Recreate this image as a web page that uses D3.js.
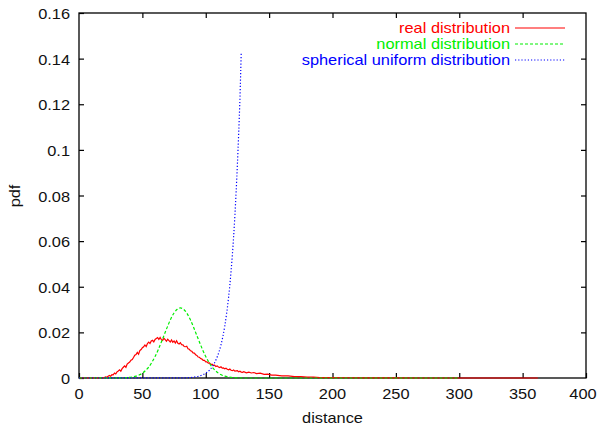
<!DOCTYPE html>
<html><head><meta charset="utf-8">
<script src="https://cdn.jsdelivr.net/npm/d3@7"></script>
<style>body{margin:0;background:#fff}svg{display:block}</style>
</head><body>
<script>
// ---- data ----
const xTicks = [0, 50, 100, 150, 200, 250, 300, 350, 400];
const xTickLabels = ["0", "50", "100", "150", "200", "250", "300", "350", "400"];
const yTicks = [0, 0.02, 0.04, 0.06, 0.08, 0.1, 0.12, 0.14, 0.16];
const yTickLabels = ["0", "0.02", "0.04", "0.06", "0.08", "0.1", "0.12", "0.14", "0.16"];
const seriesNames = ["real distribution", "normal distribution", "spherical uniform distribution"];
const seriesColors = ["#ff0000", "#00ee00", "#0000ff"];

// real distribution (noisy histogram-like)
const realXHead = [0, 15];
const realYHead = [0, 0];
const realXDense = d3.range(20, 131); // distance grid 20..130
const realYDense = [
  0.0002,0.0005,0.0003,0.0008,0.0011,0.0008,0.0015,0.0014,0.0022,0.0018,
  0.0027,0.0031,0.0036,0.0030,0.0041,0.0047,0.0053,0.0047,0.0061,0.0066,
  0.0070,0.0078,0.0081,0.0090,0.0100,0.0103,0.0112,0.0104,0.0120,0.0125,
  0.0133,0.0137,0.0145,0.0138,0.0151,0.0157,0.0151,0.0162,0.0165,0.0158,
  0.0169,0.0173,0.0177,0.0169,0.0178,0.0168,0.0165,0.0174,0.0168,0.0161,
  0.0170,0.0164,0.0158,0.0167,0.0157,0.0162,0.0153,0.0163,0.0152,0.0149,
  0.0155,0.0146,0.0145,0.0138,0.0137,0.0139,0.0128,0.0126,0.0119,0.0117,
  0.0110,0.0109,0.0102,0.0099,0.0092,0.0091,0.0085,0.0083,0.0077,0.0077,
  0.0071,0.0071,0.0065,0.0066,0.0059,0.0061,0.0055,0.0056,0.0050,0.0053,
  0.0048,0.0046,0.0049,0.0043,0.0044,0.0040,0.0043,0.0038,0.0036,0.0039,
  0.0034,0.0032,0.0035,0.0030,0.0031,0.0032,0.0027,0.0030,0.0026,0.0025,0.0028
];
const realXTail = [132, 134, 136, 138, 140, 143, 146, 149, 152, 155, 160, 165, 170, 175, 180, 185, 190, 200, 210, 225, 250, 270, 362];
const realYTail = [0.0023, 0.0026, 0.0022, 0.0024, 0.0019, 0.0021, 0.0016, 0.0017, 0.0013, 0.0013, 0.0009, 0.0009, 0.0006, 0.0006, 0.0004, 0.0004, 0.0002, 0.00015, 0.0001, 0.00005, 0.00003, 0, 0];

// normal distribution
const normX = [0, 35, 37.5, 40, 42.5, 45, 47.5, 50, 52.5, 55, 57.5, 60, 62.5, 65, 67.5, 70, 72.5, 75, 77.5, 80,
  82.5, 85, 87.5, 90, 92.5, 95, 97.5, 100, 102.5, 105, 107.5, 110, 112.5, 115, 117.5, 120, 122.5, 125, 130, 300];
const normY = [0, 0.00005, 0.00015, 0.00027, 0.00048, 0.0008, 0.00135, 0.0021, 0.0033, 0.0048, 0.0069, 0.0094, 0.0124, 0.0158, 0.0193, 0.0228, 0.0260, 0.0285, 0.0301, 0.0307,
  0.0301, 0.0285, 0.0260, 0.0228, 0.0193, 0.0158, 0.0124, 0.0094, 0.0069, 0.0048, 0.0033, 0.0021, 0.00135, 0.0008, 0.00048, 0.00027, 0.00015, 0.00008, 0, 0];

// spherical uniform distribution
const sphX = [0, 85, 90, 95, 100, 103, 106, 109, 112, 115, 118, 120, 122, 124, 125, 126, 127, 128];
const sphY = [0, 0.0001, 0.00035, 0.0009, 0.0021, 0.0035, 0.0057, 0.0092, 0.0145, 0.0228, 0.0353, 0.047, 0.062, 0.082, 0.094, 0.1076, 0.123, 0.143];

// ---- layout ----
const W = 597, H = 425;
const m = {left: 79, right: 11, top: 13, bottom: 47};
const x = d3.scaleLinear().domain([0, 400]).range([m.left, W - m.right]);
const y = d3.scaleLinear().domain([0, 0.16]).range([H - m.bottom, m.top]);
const FONT = "'Liberation Sans', Arial, Helvetica, sans-serif";
const FS = 14, SX = 1.17;

const svg = d3.select("body").append("svg").attr("width", W).attr("height", H);

function txt(g, tx, ty, s, anchor, color, rot) {
  return g.append("text")
    .attr("transform", `translate(${tx},${ty})` + (rot ? ` rotate(${rot})` : "") + ` scale(${SX},1)`)
    .attr("text-anchor", anchor)
    .attr("dominant-baseline", "central")
    .attr("font-family", FONT).attr("font-size", FS)
    .attr("fill", color || "#111").text(s);
}

// frame
svg.append("rect").attr("x", x(0)).attr("y", y(0.16))
  .attr("width", x(400) - x(0)).attr("height", y(0) - y(0.16))
  .attr("fill", "none").attr("stroke", "#000").attr("stroke-width", 1.3);

// ticks (inward, mirrored)
const axB = d3.axisBottom(x).tickValues(xTicks).tickSizeInner(-5).tickSizeOuter(0).tickFormat(() => "");
const axT = d3.axisTop(x).tickValues(xTicks.slice(1, -1)).tickSizeInner(-5).tickSizeOuter(0).tickFormat(() => "");
const axL = d3.axisLeft(y).tickValues(yTicks).tickSizeInner(-5).tickSizeOuter(0).tickFormat(() => "");
const axR = d3.axisRight(y).tickValues(yTicks.slice(1, -1)).tickSizeInner(-5).tickSizeOuter(0).tickFormat(() => "");
[[axB, `translate(0,${y(0)})`], [axT, `translate(0,${y(0.16)})`], [axL, `translate(${x(0)},0)`], [axR, `translate(${x(400)},0)`]]
  .forEach(([a, t]) => {
    const g = svg.append("g").attr("transform", t).call(a);
    g.select(".domain").remove();
    g.selectAll("line").attr("stroke", "#000").attr("stroke-width", 1.2);
  });

// tick labels
const lab = svg.append("g");
xTicks.forEach((v, i) => txt(lab, Math.min(x(v), 583), 394, xTickLabels[i], "middle"));
yTicks.forEach((v, i) => txt(lab, 70, y(v) + 1, yTickLabels[i], "end"));

// axis titles
txt(lab, x(200), 418, "distance", "middle");
txt(lab, 15, 196, "pdf", "middle", "#111", -90);

// curves
const line = (cv) => d3.line().x(d => x(d[0])).y(d => y(d[1])).curve(cv);
const realPts = d3.zip(realXHead.concat(realXDense, realXTail), realYHead.concat(realYDense, realYTail));
const normPts = d3.zip(normX, normY);
const sphPts = d3.zip(sphX, sphY);

svg.append("path").datum(realPts).attr("d", line(d3.curveLinear))
  .attr("fill", "none").attr("stroke", seriesColors[0]).attr("stroke-width", 1.2);
svg.append("path").datum(normPts).attr("d", line(d3.curveMonotoneX))
  .attr("fill", "none").attr("stroke", seriesColors[1]).attr("stroke-width", 1.2).attr("stroke-dasharray", "3,2");
svg.append("path").datum(sphPts).attr("d", line(d3.curveMonotoneX))
  .attr("fill", "none").attr("stroke", seriesColors[2]).attr("stroke-width", 1.2).attr("stroke-dasharray", "1.2,2");

// legend
const dashes = [null, "3,2", "1.2,2"];
const leg = svg.append("g");
seriesNames.forEach((n, i) => {
  const ly = 28 + i * 16;
  txt(leg, 510, ly, n, "end", seriesColors[i]);
  leg.append("line").attr("x1", 515).attr("x2", 565).attr("y1", ly).attr("y2", ly)
    .attr("stroke", seriesColors[i]).attr("stroke-width", 1.2)
    .attr("stroke-dasharray", dashes[i]);
});
</script>
</body></html>
